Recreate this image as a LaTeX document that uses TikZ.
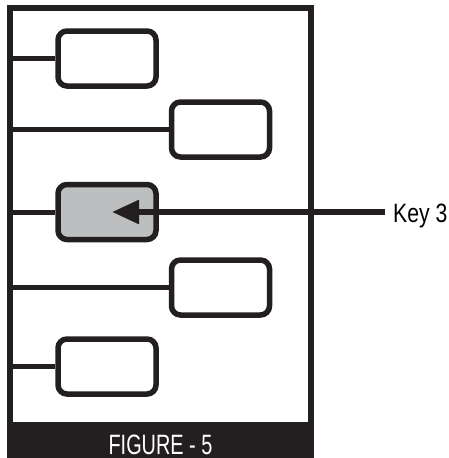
\documentclass[tikz,border=0pt]{standalone}
\usepackage{fontspec}
\usetikzlibrary{arrows.meta}
\newfontfamily\keyfont[FakeStretch=0.8]{Liberation Sans}
\newfontfamily\capfont[FakeStretch=0.71]{Liberation Sans}
\definecolor{ink}{HTML}{231F20}
\definecolor{keygray}{HTML}{BCBEC0}
\tikzset{
  heavy/.style={draw=ink, line width=5.5pt},
  keybox/.style={heavy, rectangle, rounded corners=9pt, minimum width=98pt,
                 minimum height=55pt, inner sep=0pt, fill=white},
  pressed/.style={keybox, fill=keygray},
  wire/.style={heavy, line width=5pt, line cap=butt},
  pointer/.style={heavy, -{Triangle[length=27pt, width=23pt]}}
}
\begin{document}
\begin{tikzpicture}[x=1pt, y=-1pt]
  \useasboundingbox (0,0) rectangle (449,458);
  % housing and caption band
  \draw[heavy, line join=miter] (10,422) -- (10,8) -- (311,8) -- (311,422);
  \fill[ink] (7,422) rectangle (314,458);
  \node[text=white, font={\capfont\fontsize{28}{30}\selectfont}, anchor=base,
        inner sep=0pt] (caption) at (160.5,454) {FIGURE - 5};
  % key rails on the housing wall
  \coordinate (r1) at (10,58.5);
  \coordinate (r2) at (10,129.5);
  \coordinate (r3) at (10,212);
  \coordinate (r4) at (10,287.5);
  \coordinate (r5) at (10,366.5);
  % keys
  \node[keybox] (k1) at (107,58.5) {};
  \node[keybox] (k2) at (220.5,129.5) {};
  \node[pressed] (k3) at (107,212) {};
  \node[keybox] (k4) at (220.5,287.5) {};
  \node[keybox] (k5) at (107,366.5) {};
  \draw[wire] (r1) -- (k1.west);
  \draw[wire] (r2) -- (k2.west);
  \draw[wire] (r3) -- (k3.west);
  \draw[wire] (r4) -- (k4.west);
  \draw[wire] (r5) -- (k5.west);
  % callout
  \node[font={\keyfont\fontsize{26.5}{28}\selectfont}, anchor=base west, inner sep=0pt]
    (label) at (393,222) {Key 3};
  \coordinate (lead) at (385,212);
  \coordinate (tip) at (112,212);
  \draw[pointer] (lead) -- (tip);
\end{tikzpicture}
\end{document}
